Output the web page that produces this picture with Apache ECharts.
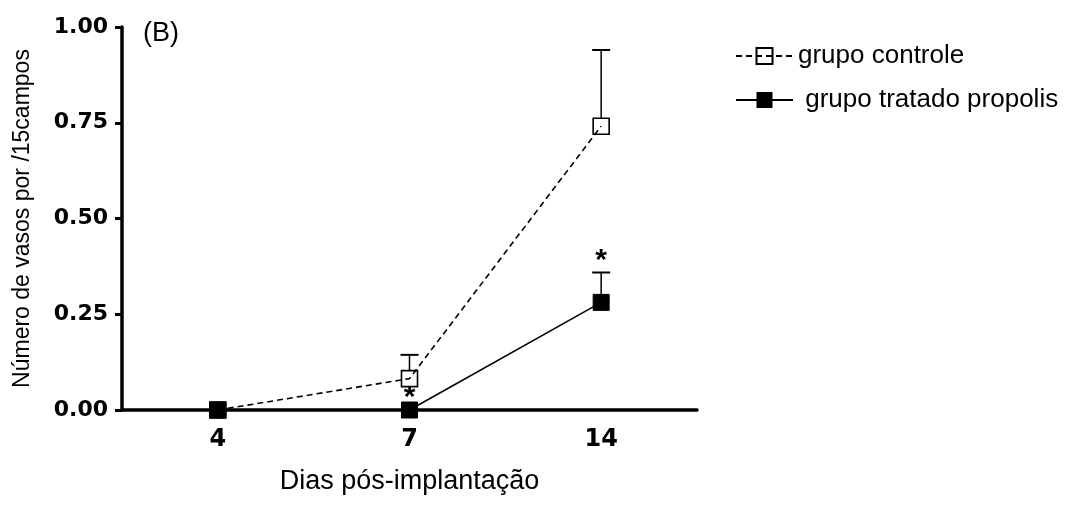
<!DOCTYPE html>
<html><head><meta charset="utf-8">
<script src="https://cdn.jsdelivr.net/npm/echarts@6/dist/echarts.min.js"></script>
<style>html,body{margin:0;padding:0;background:#fff}#c{width:1073px;height:506px}</style>
</head><body><div id="c"></div>
<script>
// Data
const categories = ['4', '7', '14'];
const controlMean = [0, 0.082, 0.741];
const controlErr = [0, 0.062, 0.199];
const treatedMean = [0, 0, 0.281];
const treatedErr = [0, 0, 0.078];
const significance = ['', '*', '*'];
const seriesNames = ['grupo controle', ' grupo tratado propolis'];
const yAxisTitle = 'Número de vasos por /15campos';
const xAxisTitle = 'Dias pós-implantação';
const panelLabel = '(B)';

const SANS = "'Liberation Sans', Arial, sans-serif";
const BOLD = "'DejaVu Sans', 'Liberation Sans', sans-serif";
const SYM = 16;

function errRender(params, api) {
  const i = api.value(0), m = api.value(1), e = api.value(2);
  if (!e) return null;
  const p0 = api.coord([i, m]);
  const p1 = api.coord([i, m + e]);
  return {
    type: 'group',
    children: [
      {type: 'line', shape: {x1: p0[0], y1: p0[1] - SYM / 2, x2: p1[0], y2: p1[1]}, style: {stroke: '#000', lineWidth: 1.5}},
      {type: 'line', shape: {x1: p1[0] - 9, y1: p1[1], x2: p1[0] + 9, y2: p1[1]}, style: {stroke: '#000', lineWidth: 2}}
    ]
  };
}
function sigRender(params, api) {
  const i = api.value(0), top = api.value(1);
  const s = significance[params.dataIndex];
  if (!s) return null;
  const p = api.coord([i, top]);
  return {
    type: 'text',
    style: {x: p[0], y: p[1] - 12, text: s, font: 'bold 30px ' + SANS, fill: '#000', align: 'center', verticalAlign: 'middle'}
  };
}

const chart = echarts.init(document.getElementById('c'), null, {renderer: 'canvas'});
chart.setOption({
  animation: false,
  backgroundColor: '#fff',
  grid: {left: 122, right: 376, top: 27, bottom: 96, containLabel: false, outerBoundsMode: 'none'},
  graphic: [{type: 'text', left: 143, top: 20, style: {text: panelLabel, font: '27px ' + SANS, fill: '#000'}}],
  legend: {
    orient: 'vertical', left: 730, top: 38, itemWidth: 57, itemHeight: 20, itemGap: 18,
    data: seriesNames,
    textStyle: {fontSize: 26, fontFamily: SANS, color: '#000'}
  },
  xAxis: {
    type: 'category', data: categories, boundaryGap: true,
    name: xAxisTitle, nameLocation: 'middle', nameGap: 58,
    nameTextStyle: {fontSize: 27, fontFamily: SANS, color: '#000'},
    axisLine: {lineStyle: {color: '#000', width: 3.5}},
    axisTick: {alignWithLabel: true, length: 11, lineStyle: {color: '#000', width: 3}},
    axisLabel: {fontSize: 24, fontWeight: 'bold', fontFamily: BOLD, color: '#000', margin: 18}
  },
  yAxis: {
    type: 'value', min: 0, max: 1, interval: 0.25,
    name: yAxisTitle, nameLocation: 'middle', nameGap: 88,
    nameTextStyle: {fontSize: 23, fontFamily: SANS, color: '#000'},
    splitLine: {show: false},
    axisLine: {show: true, lineStyle: {color: '#000', width: 3.5}},
    axisTick: {show: true, length: 7, lineStyle: {color: '#000', width: 3}},
    axisLabel: {fontSize: 22, fontWeight: 'bold', fontFamily: BOLD, color: '#000', margin: 14, formatter: v => v.toFixed(2)}
  },
  series: [
    {
      name: seriesNames[0], type: 'line', data: controlMean,
      symbol: 'rect', symbolSize: SYM, z: 3,
      lineStyle: {color: '#000', width: 1.6, type: [6, 4]},
      itemStyle: {color: 'rgba(0,0,0,0)', borderColor: '#000', borderWidth: 1.6}
    },
    {
      name: seriesNames[1], type: 'line', data: treatedMean,
      symbol: 'rect', symbolSize: SYM, z: 4,
      lineStyle: {color: '#000', width: 1.6},
      itemStyle: {color: '#000', borderColor: '#000'}
    },
    {type: 'custom', renderItem: errRender, z: 2, data: controlMean.map((m, i) => [i, m, controlErr[i]])},
    {type: 'custom', renderItem: errRender, z: 2, data: treatedMean.map((m, i) => [i, m, treatedErr[i]])},
    {type: 'custom', renderItem: sigRender, z: 5, data: treatedMean.map((m, i) => [i, m + treatedErr[i]])}
  ]
});
</script></body></html>
